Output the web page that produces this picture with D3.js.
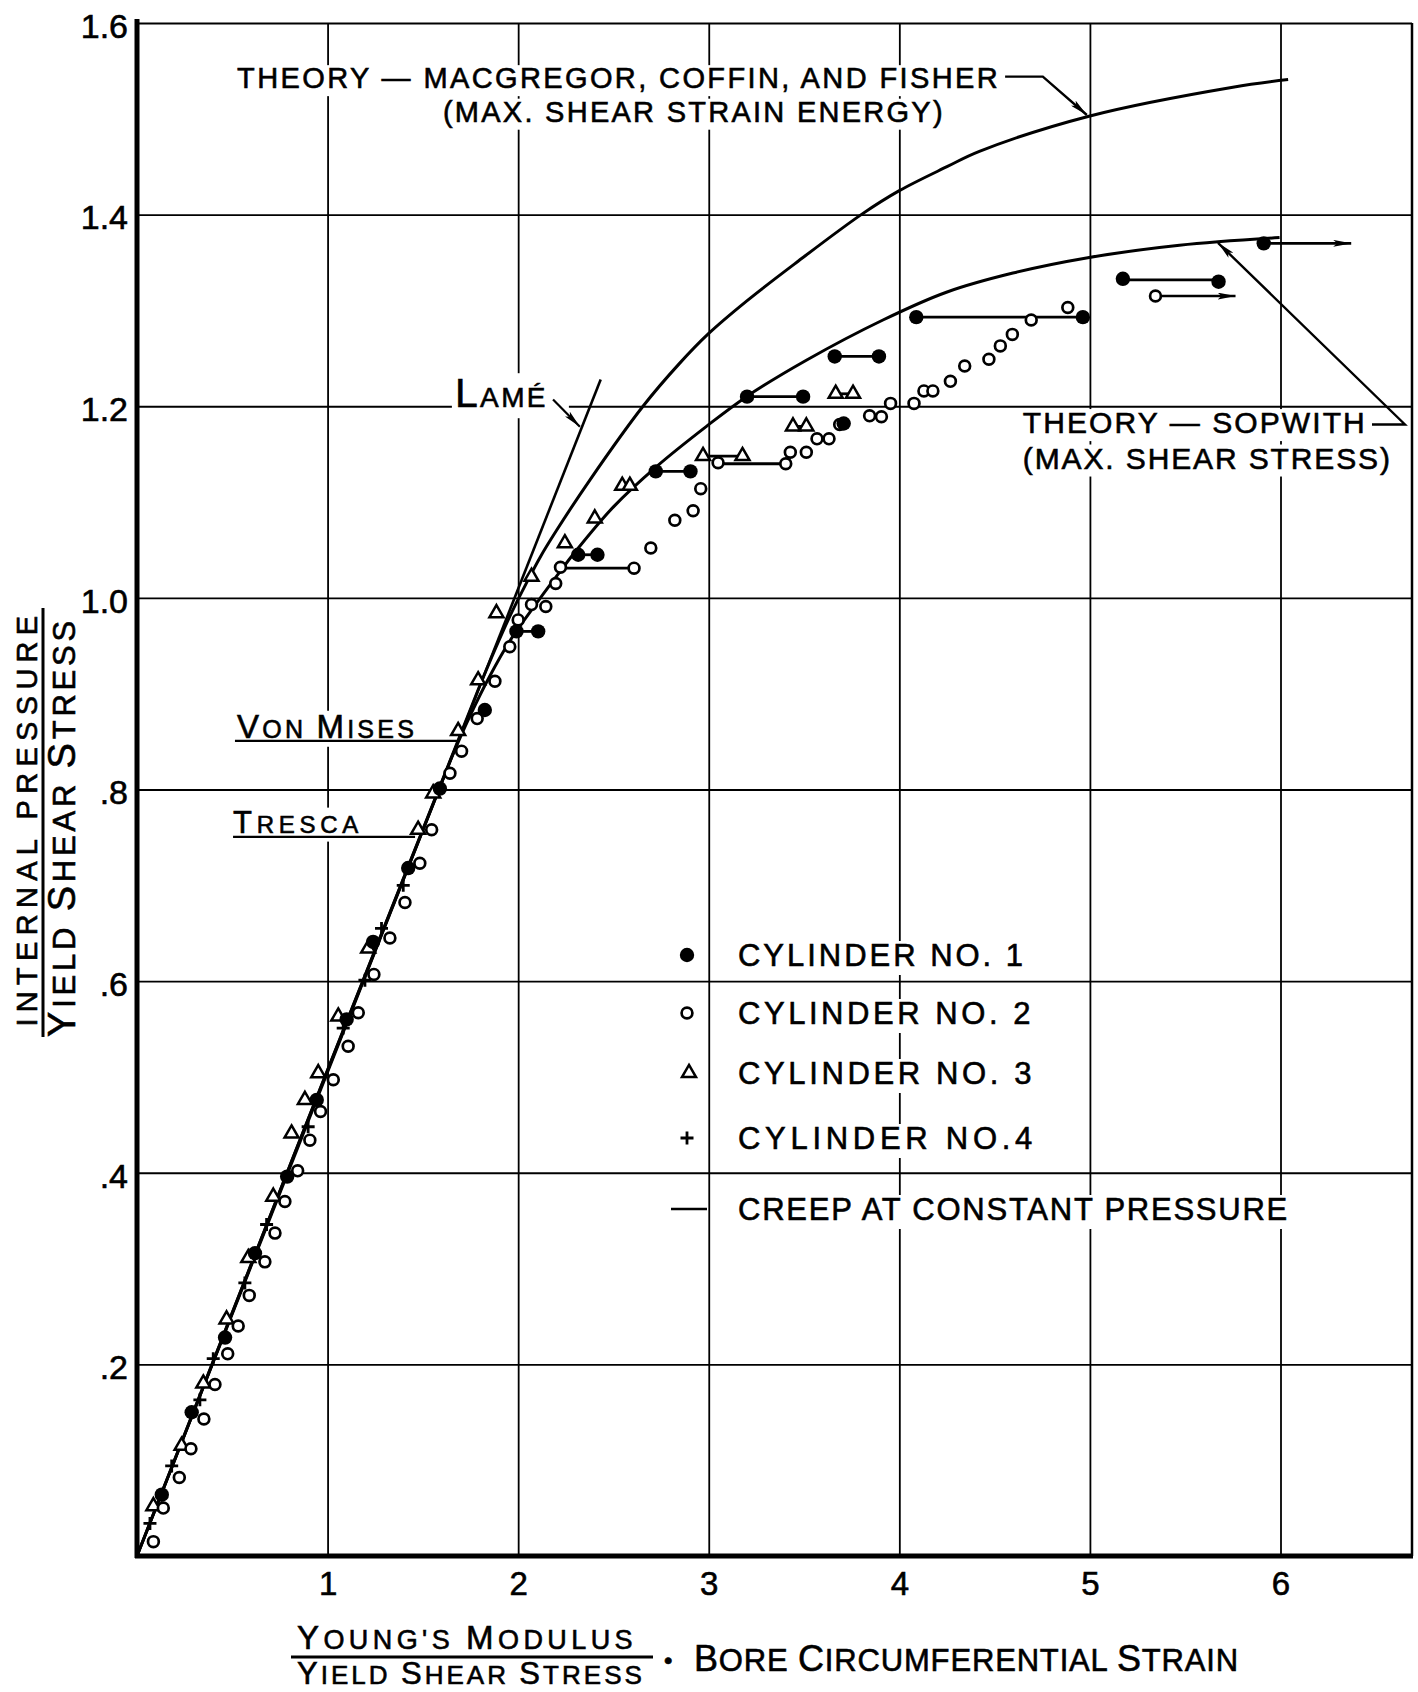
<!DOCTYPE html>
<html>
<head>
<meta charset="utf-8">
<script src="https://cdn.jsdelivr.net/npm/d3@7"></script>
<style>
  body { margin: 0; background: #fff; }
  svg text { font-family: "Liberation Sans", Arial, sans-serif; fill: #000; stroke: #000; stroke-width: 0.6px; white-space: pre; }
</style>
</head>
<body>
<svg id="chart" width="1418" height="1692"></svg>
<script>
// ---- data ----
const xTicks = [1, 2, 3, 4, 5, 6];
const xTickLabels = ['1', '2', '3', '4', '5', '6'];
const yTicks = [0.2, 0.4, 0.6, 0.8, 1.0, 1.2, 1.4, 1.6];
const yTickLabels = ['.2', '.4', '.6', '.8', '1.0', '1.2', '1.4', '1.6'];

const cyl1Points = [
  [0.13, 0.064], [0.287, 0.150], [0.462, 0.228], [0.619, 0.316], [0.788, 0.396], [0.943, 0.476],
  [1.100, 0.560], [1.239, 0.641], [1.423, 0.718], [1.589, 0.801], [1.825, 0.883], [1.991, 0.965],
  [2.105, 0.965], [2.315, 1.045], [2.416, 1.045], [2.722, 1.132], [2.904, 1.132], [3.201, 1.210],
  [3.495, 1.210], [3.661, 1.252], [3.893, 1.252], [3.708, 1.182], [4.089, 1.293], [4.963, 1.293],
  [5.173, 1.333], [5.675, 1.330], [5.912, 1.370]
];
const cyl2Points = [
  [0.086, 0.015], [0.138, 0.050], [0.222, 0.082], [0.283, 0.112], [0.351, 0.143], [0.409, 0.179],
  [0.476, 0.211], [0.531, 0.240], [0.589, 0.272], [0.671, 0.307], [0.724, 0.337], [0.776, 0.370],
  [0.843, 0.402], [0.907, 0.434], [0.963, 0.464], [1.030, 0.497], [1.108, 0.532], [1.161, 0.567],
  [1.243, 0.607], [1.327, 0.645], [1.406, 0.682], [1.484, 0.723], [1.546, 0.758], [1.642, 0.817],
  [1.703, 0.840], [1.785, 0.874], [1.878, 0.913], [1.956, 0.949], [2.000, 0.977], [2.070, 0.993],
  [2.145, 0.991], [2.197, 1.015], [2.222, 1.032], [2.608, 1.031], [2.696, 1.052], [2.822, 1.081],
  [2.918, 1.091], [2.958, 1.114], [3.049, 1.141], [3.404, 1.140], [3.428, 1.152], [3.512, 1.152],
  [3.568, 1.166], [3.631, 1.166], [3.687, 1.181], [3.844, 1.190], [3.906, 1.189], [3.954, 1.203],
  [4.077, 1.203], [4.129, 1.216], [4.176, 1.216], [4.268, 1.226], [4.343, 1.242], [4.470, 1.249],
  [4.530, 1.263], [4.593, 1.275], [4.692, 1.290], [4.884, 1.303], [5.344, 1.315]
];
const cyl3Points = [
  [0.086, 0.052], [0.234, 0.115], [0.348, 0.180], [0.470, 0.247], [0.584, 0.311], [0.715, 0.375],
  [0.811, 0.441], [0.881, 0.476], [0.951, 0.504], [1.056, 0.563], [1.213, 0.634], [1.475, 0.758],
  [1.554, 0.796], [1.685, 0.861], [1.790, 0.914], [1.886, 0.984], [2.070, 1.022], [2.245, 1.057],
  [2.402, 1.083], [2.546, 1.117], [2.586, 1.117], [2.970, 1.148], [3.177, 1.148], [3.442, 1.179],
  [3.512, 1.179], [3.666, 1.213], [3.757, 1.213]
];
const cyl4Points = [
  [0.068, 0.034], [0.182, 0.094], [0.330, 0.163], [0.400, 0.206], [0.566, 0.285], [0.680, 0.346],
  [0.898, 0.448], [1.082, 0.551], [1.196, 0.601], [1.283, 0.655], [1.397, 0.700]
];

// creep at constant pressure: [from x, to x, y]
const creepLines = [
  [1.991, 2.105, 0.965], [2.315, 2.416, 1.045], [2.722, 2.904, 1.132], [3.201, 3.495, 1.210],
  [3.661, 3.893, 1.252], [4.089, 4.963, 1.293], [5.173, 5.675, 1.332],
  [2.222, 2.608, 1.031], [3.049, 3.404, 1.140],
  [2.970, 3.177, 1.148], [3.442, 3.512, 1.179], [3.666, 3.757, 1.213]
];
const creepArrows = [[5.912, 6.371, 1.370], [5.344, 5.764, 1.315]];

const lameCurve = [[0, 0], [2.433, 1.228]];
const macgregorCurve = [
  [0, 0], [1.80, 0.909], [1.95, 0.978], [2.05, 1.018], [2.114, 1.042], [2.2, 1.070], [2.376, 1.123],
  [2.655, 1.200], [2.848, 1.245], [3.0, 1.276], [3.2, 1.310], [3.46, 1.350], [3.8, 1.400], [4.0, 1.425],
  [4.25, 1.450], [4.42, 1.466], [5.0, 1.503], [5.75, 1.533], [6.04, 1.541]
];
const sopwithCurve = [
  [0, 0], [1.65, 0.833], [1.75, 0.878], [1.85, 0.918], [1.956, 0.955], [2.113, 0.999], [2.218, 1.027],
  [2.287, 1.045], [2.5, 1.095], [2.726, 1.137], [2.988, 1.179], [3.198, 1.210], [3.512, 1.248],
  [3.914, 1.290], [4.247, 1.319], [4.596, 1.339], [4.989, 1.355], [5.47, 1.368], [5.995, 1.376]
];

const legendLabels = ['CYLINDER NO. 1', 'CYLINDER NO. 2', 'CYLINDER NO. 3', 'CYLINDER NO.4', 'CREEP AT CONSTANT PRESSURE'];

// ---- layout ----
const svg = d3.select('#chart');
const x = d3.scaleLinear().domain([0, 6.69]).range([137, 1412]);
const y = d3.scaleLinear().domain([0, 1.6]).range([1556, 23]);

svg.append('defs').append('marker')
  .attr('id', 'arrow').attr('viewBox', '0 0 18 7')
  .attr('refX', 18).attr('refY', 3.5)
  .attr('markerWidth', 18).attr('markerHeight', 7)
  .attr('markerUnits', 'userSpaceOnUse').attr('orient', 'auto')
  .append('path').attr('d', 'M0,0L18,3.5L0,7L4,3.5Z').attr('fill', '#000');

// grid
const gx = svg.append('g')
  .attr('transform', `translate(0,${y(0)})`)
  .call(d3.axisBottom(x).tickValues(xTicks).tickSize(-(y(0) - y(1.6)))
    .tickPadding(16).tickFormat((d, i) => xTickLabels[i]));
gx.select('.domain').remove();
gx.selectAll('line').attr('stroke', '#000').attr('stroke-width', 1.8);
gx.selectAll('text').attr('font-size', 33).attr('fill', '#000');

const gy = svg.append('g')
  .attr('transform', `translate(${x(0)},0)`)
  .call(d3.axisLeft(y).tickValues(yTicks).tickSize(-(x(6.69) - x(0)))
    .tickPadding(9).tickFormat((d, i) => yTickLabels[i]));
gy.select('.domain').remove();
gy.selectAll('line').attr('stroke', '#000').attr('stroke-width', 1.8);
gy.selectAll('text').attr('font-size', 34).attr('dy', '0.42em').attr('fill', '#000');

// frame
svg.append('line').attr('x1', x(6.69)).attr('x2', x(6.69)).attr('y1', y(1.6)).attr('y2', y(0))
  .attr('stroke', '#000').attr('stroke-width', 2.5);
svg.append('line').attr('x1', x(0)).attr('x2', x(0)).attr('y1', y(1.6) - 4).attr('y2', y(0) + 2)
  .attr('stroke', '#000').attr('stroke-width', 5);
svg.append('line').attr('x1', x(0) - 2).attr('x2', x(6.69) + 1).attr('y1', y(0)).attr('y2', y(0))
  .attr('stroke', '#000').attr('stroke-width', 5);

const bg = svg.append('g');
const plot = svg.append('g');
const labels = svg.append('g');

// text helper: small caps style (first letter of each word larger) + fit to width
function addText(g, str, px, py, fs, bigFs, width, anchor) {
  const t = g.append('text').attr('x', px).attr('y', py)
    .attr('text-anchor', anchor || 'start').attr('font-size', fs);
  if (bigFs) {
    const words = str.split(' ');
    words.forEach((w, i) => {
      t.append('tspan').attr('font-size', bigFs).text(w[0]);
      t.append('tspan').attr('font-size', fs).text(w.slice(1) + (i < words.length - 1 ? ' ' : ''));
    });
  } else {
    t.text(str);
  }
  if (width) {
    const w = t.node().getComputedTextLength();
    t.style('letter-spacing', ((width - w) / str.length) + 'px');
  }
  return t;
}
function blank(t, extraRight) {
  const b = t.node().getBBox();
  bg.append('rect').attr('x', b.x - 3).attr('y', b.y + 3)
    .attr('width', b.width + 6 + (extraRight || 0)).attr('height', b.height - 1)
    .attr('fill', '#fff');
}

// curves
const line = d3.line().x(d => x(d[0])).y(d => y(d[1])).curve(d3.curveCatmullRom.alpha(0.5));
plot.append('path').attr('d', line(lameCurve)).attr('fill', 'none').attr('stroke', '#000').attr('stroke-width', 2.6);
plot.append('path').attr('d', line(macgregorCurve)).attr('fill', 'none').attr('stroke', '#000').attr('stroke-width', 3);
plot.append('path').attr('d', line(sopwithCurve)).attr('fill', 'none').attr('stroke', '#000').attr('stroke-width', 3);

// creep
plot.selectAll('line.creep').data(creepLines).join('line').attr('class', 'creep')
  .attr('x1', d => x(d[0])).attr('x2', d => x(d[1])).attr('y1', d => y(d[2])).attr('y2', d => y(d[2]))
  .attr('stroke', '#000').attr('stroke-width', 2.8);
plot.selectAll('line.carrow').data(creepArrows).join('line').attr('class', 'carrow')
  .attr('x1', d => x(d[0])).attr('x2', d => x(d[1])).attr('y1', d => y(d[2])).attr('y2', d => y(d[2]))
  .attr('stroke', '#000').attr('stroke-width', 2.6).attr('marker-end', 'url(#arrow)');

// markers
const tri = d3.symbol().type(d3.symbolTriangle).size(85)();
function drawOpen(g, data) {
  g.selectAll('circle.o').data(data).join('circle').attr('class', 'o')
    .attr('cx', d => x(d[0])).attr('cy', d => y(d[1])).attr('r', 5.4)
    .attr('fill', '#fff').attr('stroke', '#000').attr('stroke-width', 2.7);
}
function drawTri(g, data) {
  g.selectAll('path.t').data(data).join('path').attr('class', 't')
    .attr('transform', d => `translate(${x(d[0])},${y(d[1])})`).attr('d', tri)
    .attr('fill', '#fff').attr('stroke', '#000').attr('stroke-width', 2.5);
}
function drawPlus(g, data) {
  g.selectAll('path.p').data(data).join('path').attr('class', 'p')
    .attr('transform', d => `translate(${x(d[0])},${y(d[1])})`).attr('d', 'M-6.5,0H6.5M0,-6.5V6.5')
    .attr('stroke', '#000').attr('stroke-width', 2.8);
}
function drawFilled(g, data) {
  g.selectAll('circle.f').data(data).join('circle').attr('class', 'f')
    .attr('cx', d => x(d[0])).attr('cy', d => y(d[1])).attr('r', 7.2).attr('fill', '#000');
}
drawTri(plot.append('g'), cyl3Points);
drawOpen(plot.append('g'), cyl2Points);
drawPlus(plot.append('g'), cyl4Points);
drawFilled(plot.append('g'), cyl1Points);

// annotations
const a1 = addText(labels, 'THEORY \u2014 MACGREGOR, COFFIN, AND FISHER', x(0.525), y(1.532), 29, 0, 763);
blank(a1);
const a2 = addText(labels, '(MAX. SHEAR STRAIN ENERGY)', x(1.605), y(1.497), 29, 0, 502);
blank(a2);
labels.append('path')
  .attr('d', d3.line()([[x(4.555), y(1.544)], [x(4.753), y(1.544)], [x(4.984), y(1.504)]]))
  .attr('fill', 'none').attr('stroke', '#000').attr('stroke-width', 2.4).attr('marker-end', 'url(#arrow)');

const s1 = addText(labels, 'THEORY \u2014 SOPWITH', x(4.648), y(1.172), 30, 0, 344);
blank(s1);
const s2 = addText(labels, '(MAX. SHEAR STRESS)', x(4.648), y(1.135), 30, 0, 369);
blank(s2);
labels.append('path')
  .attr('d', d3.line()([[x(6.48), y(1.181)], [x(6.653), y(1.181)], [x(5.672), y(1.3706)]]))
  .attr('fill', 'none').attr('stroke', '#000').attr('stroke-width', 2.4).attr('marker-end', 'url(#arrow)');

const lm = addText(labels, 'LAM\u00c9', x(1.668), y(1.199), 28, 41, 93);
blank(lm, 18);
labels.append('path')
  .attr('d', d3.line()([[x(2.183), y(1.207)], [x(2.324), y(1.1785)]]))
  .attr('fill', 'none').attr('stroke', '#000').attr('stroke-width', 2.2).attr('marker-end', 'url(#arrow)');

const vm = addText(labels, 'VON MISES', x(0.525), y(0.854), 25, 33, 180);
blank(vm);
labels.append('line').attr('x1', x(0.514)).attr('x2', x(1.679)).attr('y1', y(0.8507)).attr('y2', y(0.8507))
  .attr('stroke', '#000').attr('stroke-width', 2.2);
const tr = addText(labels, 'TRESCA', x(0.504), y(0.755), 24, 31, 130);
blank(tr);
labels.append('line').attr('x1', x(0.504)).attr('x2', x(1.459)).attr('y1', y(0.7505)).attr('y2', y(0.7505))
  .attr('stroke', '#000').attr('stroke-width', 2.2);

// legend
const legX = 687, legTextX = 738;
const legRows = [955, 1013, 1073, 1138, 1209];
const legWidths = [288, 296, 297, 299, 551];
const lg = labels.append('g');
legendLabels.forEach((s, i) => {
  const t = addText(lg, s, legTextX, legRows[i] + 11, 31, 0, legWidths[i]);
  blank(t);
});
drawFilled(lg.append('g'), [[x.invert(legX), y.invert(legRows[0])]]);
drawOpen(lg.append('g'), [[x.invert(legX), y.invert(legRows[1])]]);
drawTri(lg.append('g'), [[x.invert(legX + 2), y.invert(legRows[2])]]);
drawPlus(lg.append('g'), [[x.invert(legX), y.invert(legRows[3])]]);
lg.append('line').attr('x1', legX - 16).attr('x2', legX + 20).attr('y1', legRows[4]).attr('y2', legRows[4])
  .attr('stroke', '#000').attr('stroke-width', 2.6);

// y axis title (fraction)
const yt1 = labels.append('g').attr('transform', 'translate(37,818) rotate(-90)');
addText(yt1, 'INTERNAL PRESSURE', 0, 0, 29, 0, 417, 'middle');
svg.append('line').attr('x1', 43).attr('x2', 43).attr('y1', 608).attr('y2', 1037)
  .attr('stroke', '#000').attr('stroke-width', 3);
const yt2 = labels.append('g').attr('transform', 'translate(75,827) rotate(-90)');
addText(yt2, 'YIELD SHEAR STRESS', 0, 0, 31, 38, 420, 'middle');

// x axis title
addText(labels, "YOUNG'S MODULUS", 297, 1649, 27, 33, 340);
svg.append('line').attr('x1', 291).attr('x2', 653).attr('y1', 1657).attr('y2', 1657)
  .attr('stroke', '#000').attr('stroke-width', 3);
addText(labels, 'YIELD SHEAR STRESS', 297, 1684, 26, 31, 348);
labels.append('text').attr('x', 664).attr('y', 1669).attr('font-size', 24).text('\u2022');
addText(labels, 'BORE CIRCUMFERENTIAL STRAIN', 694, 1671, 31, 36, 545);
</script>
</body>
</html>
